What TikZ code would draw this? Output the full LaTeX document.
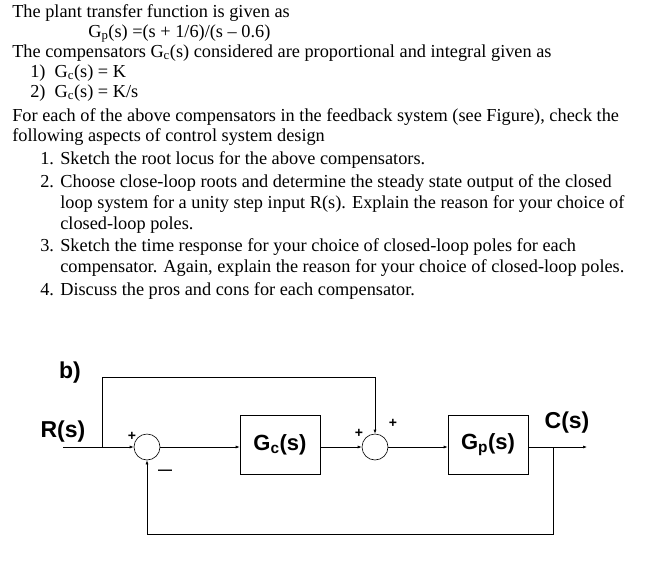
\documentclass[tikz,border=0pt]{standalone}
\usepackage{fontspec}
\setmainfont{Liberation Serif}
\newfontfamily\diag{Liberation Sans}
\usetikzlibrary{arrows.meta}
\begin{document}
\begin{tikzpicture}[x=1pt,y=-1pt,
  txt/.style={anchor=base west,inner sep=0pt,font=\fontsize{18.3}{20}\selectfont},
  blk/.style={draw,minimum width=80pt,minimum height=59pt,font=\diag\bfseries\fontsize{22}{26}\selectfont,inner sep=0pt},
  sumn/.style={draw,circle,minimum size=26pt,inner sep=0pt},
  lbl/.style={font=\diag\bfseries\fontsize{23}{26}\selectfont,inner sep=0pt},
  sgn/.style={font=\diag\bfseries\fontsize{14}{16}\selectfont,inner sep=0pt},
  arr/.style={-{Latex[length=4pt,width=3pt]}},
  line width=0.6pt]
\useasboundingbox (0,0) rectangle (672,573);
\node[txt] (t1) at (12,17) {The plant transfer function is given as};
\node[txt] (t2) at (88,37) {G\textsubscript{p}(s) =(s + 1/6)/(s -- 0.6)};
\node[txt] (t3) at (12,57) {The compensators G\textsubscript{c}(s) considered are proportional and integral given as};
\node[txt] (t4) at (30,77) {1)\enspace G\textsubscript{c}(s) = K};
\node[txt] (t5) at (30,97) {2)\enspace G\textsubscript{c}(s) = K/s};
\node[txt] (t6) at (12,121) {For each of the above compensators in the feedback system (see Figure), check the};
\node[txt] (t7) at (12,141) {following aspects of control system design};
\node[txt] (n1) at (40,164) {1.};
\node[txt] (t8) at (60,164) {Sketch the root locus for the above compensators.};
\node[txt] (n2) at (40,187) {2.};
\node[txt] (t9) at (60,187) {Choose close-loop roots and determine the steady state output of the closed};
\node[txt] (t10) at (60,208) {loop system for a unity step input R(s). Explain the reason for your choice of};
\node[txt] (t11) at (60,229) {closed-loop poles.};
\node[txt] (n3) at (40,251) {3.};
\node[txt] (t12) at (60,251) {Sketch the time response for your choice of closed-loop poles for each};
\node[txt] (t13) at (60,272) {compensator. Again, explain the reason for your choice of closed-loop poles.};
\node[txt] (n4) at (40,295) {4.};
\node[txt] (t14) at (60,295) {Discuss the pros and cons for each compensator.};

\node[lbl] (b) at (70,373) {b)};
\node[lbl] (R) at (63,432) {R(s)};
\node[lbl] (C) at (567,423) {C(s)};
\coordinate (in) at (63,447);
\coordinate (br) at (102,447);
\node[sumn] (s1) at (147,447) {};
\node[blk] (gc) at (280,444.5) {G\textsubscript{c}(s)};
\node[sumn] (s2) at (375,447) {};
\node[blk] (gp) at (488,444.5) {G\textsubscript{p}(s)};
\coordinate (ob) at (553,447);
\coordinate (out) at (587,447);
\draw[arr] (in) -- (s1.west);
\draw (br) |- (375,377) coordinate (tp);
\draw[arr] (tp) -- (s2.north);
\draw[arr] (s1.east) -- (gc.west |- s1);
\draw[arr] (gc.east |- s2) -- (s2.west);
\draw[arr] (s2.east) -- (gp.west |- s2);
\draw[arr] (gp.east |- s2) -- (out);
\draw[arr] (ob) |- (147,534) coordinate (fb) -- (s1.south);
\node[sgn] (p1) at (132,436) {+};
\node[sgn] (m1) at (165,472) {\textemdash};
\node[sgn] (p2) at (359,433) {+};
\node[sgn] (p3) at (393,423) {+};
\end{tikzpicture}
\end{document}
